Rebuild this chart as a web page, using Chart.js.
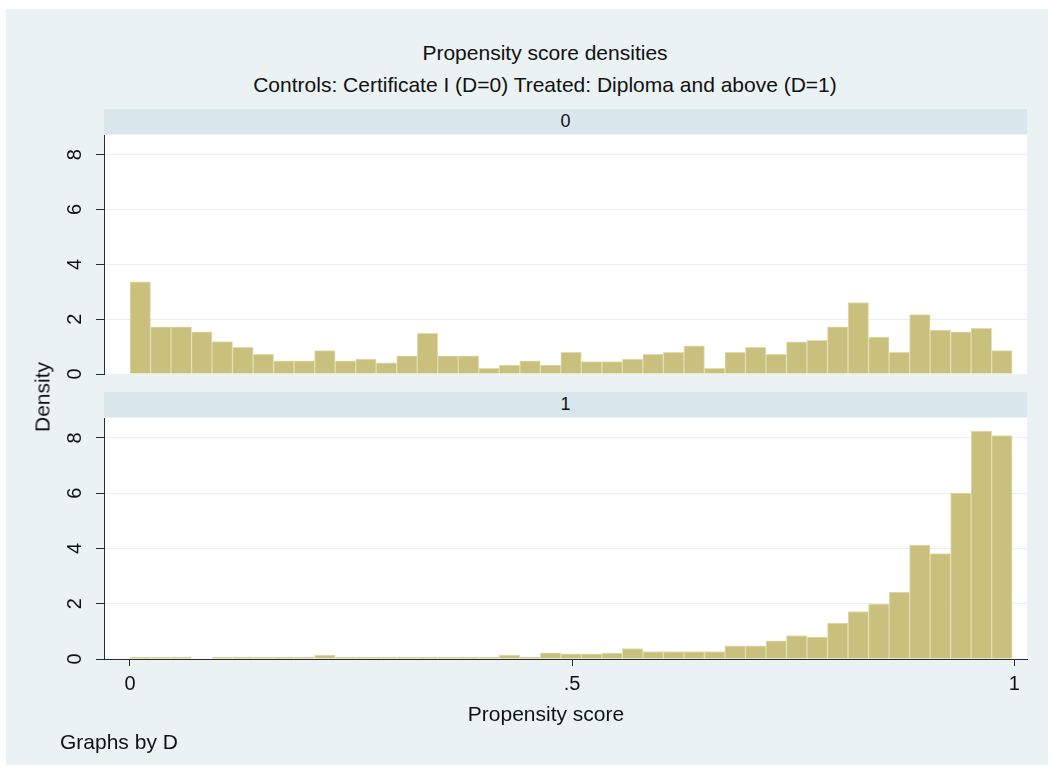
<!DOCTYPE html>
<html>
<head>
<meta charset="utf-8">
<title>Propensity score densities</title>
<script src="https://cdn.jsdelivr.net/npm/chart.js@4.4.1/dist/chart.umd.min.js"></script>
<style>
  html, body { margin: 0; padding: 0; background: #ffffff; width: 1054px; height: 771px; overflow: hidden;
               font-family: 'Liberation Sans', Arial, sans-serif; color: #111; }
  #frame { position: absolute; left: 6px; top: 9px; width: 1042px; height: 756px; background: #eaf2f3; }
  .txt { position: absolute; white-space: nowrap; transform: translate(-50%, -50%); font-size: 21px; line-height: 1; }
  .strip { position: absolute; left: 104px; width: 923px; height: 25px; background: #d9e6eb;
           text-align: center; font-size: 18px; line-height: 25px; }
  .box { position: absolute; left: 0; width: 1054px; }
  canvas { display: block; }
</style>
</head>
<body>
<div id="frame"></div>

<div class="txt" style="left:545px; top:52px;">Propensity score densities</div>
<div class="txt" style="left:545px; top:84px;">Controls: Certificate I (D=0) Treated: Diploma and above (D=1)</div>

<div class="strip" style="top:109px;">0</div>
<div class="strip" style="top:392px;">1</div>

<div class="box" style="top:100px; height:290px;"><canvas id="panel0" width="1054" height="290"></canvas></div>
<div class="box" style="top:390px; height:381px;"><canvas id="panel1" width="1054" height="381"></canvas></div>

<div class="txt" style="left:42px; top:397px; transform: translate(-50%, -50%) rotate(-90deg);">Density</div>
<div class="txt" style="left:546px; top:713px;">Propensity score</div>
<div class="txt" style="left:60px; top:741px; transform: translate(0, -50%);">Graphs by D</div>

<script>
// Histogram bins: 43 equal-width bins of the propensity score
const binStart = 0.0;
const binWidth = 0.0232;

// Density per bin, controls (D=0)
const densityControls = [
  3.36, 1.72, 1.72, 1.54, 1.18, 0.97, 0.72, 0.48, 0.48, 0.85,
  0.48, 0.54, 0.41, 0.66, 1.48, 0.66, 0.66, 0.21, 0.33, 0.48,
  0.33, 0.79, 0.45, 0.45, 0.54, 0.72, 0.79, 1.03, 0.21, 0.79,
  0.97, 0.72, 1.17, 1.23, 1.72, 2.61, 1.35, 0.79, 2.17, 1.60,
  1.54, 1.67, 0.85
];

// Density per bin, treated (D=1)
const densityTreated = [
  0.07, 0.07, 0.07, 0.00, 0.07, 0.07, 0.07, 0.07, 0.07, 0.14,
  0.07, 0.07, 0.07, 0.07, 0.07, 0.07, 0.07, 0.07, 0.14, 0.07,
  0.22, 0.19, 0.19, 0.21, 0.38, 0.27, 0.27, 0.27, 0.27, 0.48,
  0.48, 0.66, 0.85, 0.79, 1.30, 1.72, 1.99, 2.42, 4.12, 3.81,
  6.00, 8.25, 8.08
];

const yTickValues = [0, 2, 4, 6, 8];
const xTickValues = [0, 0.5, 1];
const xTickLabels = ['0', '.5', '1'];

const barFill = 'rgb(200,192,124)';
const barEdge = 'rgb(226,221,174)';
const gridColor = '#e6eff1';
const axisColor = '#2b2b2b';
const textColor = '#111111';
const fontFamily = "'Liberation Sans', Arial, sans-serif";

const xMin = -0.0294, xMax = 1.0144;
const yMax = 8.72;

// white plotting region behind the bars
const plotBackground = {
  id: 'plotBackground',
  beforeDraw(chart) {
    const a = chart.chartArea, ctx = chart.ctx;
    ctx.save();
    ctx.fillStyle = '#ffffff';
    ctx.fillRect(a.left, a.top, a.right - a.left, a.bottom - a.top);
    ctx.restore();
  }
};

function yScale() {
  return {
    min: 0,
    max: yMax,
    afterBuildTicks: s => { s.ticks = yTickValues.map(v => ({ value: v })); },
    afterFit: s => { s.width = 104; s.paddingTop = 0; s.paddingBottom = 0; },
    grid: {
      color: c => (c.tick && c.tick.value === 0) ? 'rgba(0,0,0,0)' : gridColor,
      lineWidth: 1,
      drawTicks: true,
      tickLength: 8,
      tickColor: axisColor
    },
    border: { display: true, color: axisColor, width: 1 },
    ticks: {
      minRotation: 90,
      maxRotation: 90,
      crossAlign: 'center',
      padding: 15,
      color: textColor,
      font: { family: fontFamily, size: 20 },
      callback: v => String(v)
    }
  };
}

function makePanel(canvasId, values, showAxis, padding) {
  const points = values.map((v, i) => ({ x: binStart + (i + 0.5) * binWidth, y: v }));
  const xScale = showAxis ? {
    type: 'linear',
    min: xMin,
    max: xMax,
    offset: false,
    afterBuildTicks: s => { s.ticks = xTickValues.map(v => ({ value: v })); },
    afterFit: s => { s.height = 66; },
    grid: { offset: false, drawOnChartArea: false, drawTicks: true, tickLength: 7, tickColor: axisColor },
    border: { display: true, color: axisColor, width: 1 },
    ticks: {
      maxRotation: 0,
      autoSkip: false,
      padding: 6,
      color: textColor,
      font: { family: fontFamily, size: 20 },
      callback: (v, i) => xTickLabels[i]
    }
  } : { type: 'linear', min: xMin, max: xMax, offset: false, grid: { offset: false }, display: false };

  return new Chart(document.getElementById(canvasId), {
    type: 'bar',
    data: {
      datasets: [{
        data: points,
        backgroundColor: barFill,
        borderColor: barEdge,
        borderWidth: 1,
        borderSkipped: 'start',
        categoryPercentage: 1,
        barPercentage: 1
      }]
    },
    options: {
      responsive: false,
      maintainAspectRatio: false,
      animation: false,
      layout: { padding: padding },
      plugins: { legend: { display: false }, tooltip: { enabled: false } },
      scales: { x: xScale, y: yScale() }
    },
    plugins: [plotBackground]
  });
}

makePanel('panel0', densityControls, false, { left: 0, right: 27, top: 35, bottom: 16 });
makePanel('panel1', densityTreated, true, { left: 0, right: 27, top: 28, bottom: 46 });
</script>
</body>
</html>
